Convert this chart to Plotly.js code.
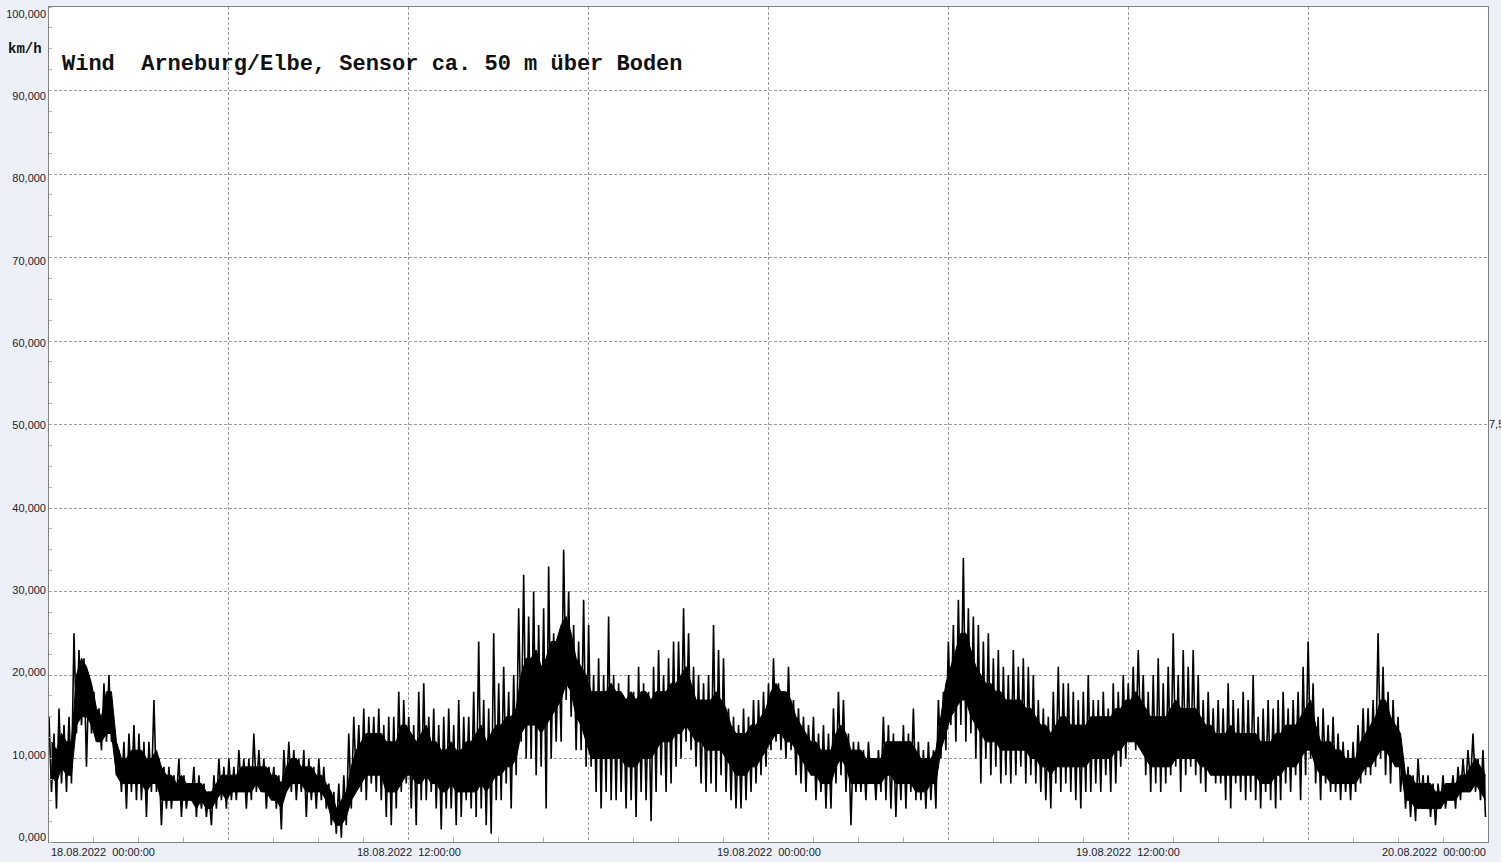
<!DOCTYPE html>
<html>
<head>
<meta charset="utf-8">
<script src="https://cdn.plot.ly/plotly-3.0.1.min.js"></script>
<style>
html,body{margin:0;padding:0;background:#edf0f9;}
#chart{width:1501px;height:862px;}
</style>
</head>
<body>
<div id="chart"></div>
<script>
// 10-minute bins starting 18.08.2022 00:00 — peaks and dips of the wind speed (km/h)
const windHigh = [
  15,13,16,14,15,25, 23,22,20,18,16,19, 20,14,11,12,13,14, 13,12,12,17,10,9,
  9,8,10,8,7,9, 8,7,6,8,10,9, 10,9,11,10,10,13, 11,10,9,9,8,11,
  12,11,10,11,10,9, 10,9,7,6,7,8, 13,15,14,16,15,15, 16,14,15,15,18,17,
  15,14,18,19,15,16, 14,15,16,14,17,15, 15,18,24,17,16,25, 19,21,18,20,28,32,
  27,30,26,28,33,25, 24,35,30,26,24,29, 26,20,22,20,27,20, 19,17,20,18,21,19,
  18,21,23,20,22,24, 24,28,25,21,20,19, 20,26,23,22,16,15, 14,16,15,17,17,18,
  19,22,19,18,21,17, 16,15,14,15,13,14, 13,16,18,17,13,12, 12,11,12,10,11,15,
  14,13,12,14,13,16, 12,11,12,11,17,18, 24,26,29,34,28,27, 26,24,25,22,23,21,
  20,23,21,22,21,20, 17,16,15,18,21,19, 19,18,17,18,20,17, 17,18,16,19,18,20,
  19,21,23,20,18,20, 22,19,21,25,20,23, 21,23,20,17,18,16, 17,16,19,17,16,18,
  17,20,15,16,17,16, 17,18,16,17,18,21, 24,19,15,16,14,15, 13,12,11,12,14,16,
  16,17,25,21,18,17, 15,10,9,8,10,8, 8,7,7,8,7,8, 9,10,11,13,10,11
];
const windLow = [
  6,4,7,6,7,13, 14,9,13,12,11,12, 12,8,6,4,6,5, 5,3,6,6,2,4,
  4,5,3,4,5,3, 4,3,2,4,5,4, 5,5,6,4,5,6, 6,4,6,4,1.5,6,
  6,5,6,3,5,4, 5,4,2,1,0.5,2, 4,7,6,5,7,6, 5,3,2,4,6,7,
  4,2,5,5,6,4, 1.5,4,4,2,3,5, 4,3,4,2,1,5, 5,7,4,8,12,10,
  10,8,9,4,10,12, 12,17,15,11,11,9, 9,6,4,6,5,5, 6,4,5,3,6,5,
  2.5,6,8,6,7,9, 10,12,11,9,7,6, 7,6,8,6,5,4, 4,5,6,7,8,9,
  11,12,11,10,11,8, 7,6,8,5,6,4, 4,7,8,6,2,6, 6,5,7,5,6,5,
  4,3,5,4,6,5, 5,4,5,4,10,11, 14,12,14,12,13,10, 7,10,8,9,7,8,
  7,8,9,7,8,7, 6,5,4,7,6,7, 6,5,4,6,6,7, 6,8,6,7,9,10,
  12,11,12,8,6,7, 6,7,8,9,6,8, 9,8,7,6,8,7, 7,5,4,7,6,5,
  6,5,4,6,5,4, 5,7,6,8,5,8, 10,7,5,7,6,6, 5,6,5,6,7,8,
  8,9,10,8,7,9, 6,4,3,2.5,5,4, 3,2,4,4,5,4, 5,6,7,6,5,3
];
// dense core of the trace, same 10-minute bins
const coreHigh = [
  12,11,13,12,12,20, 22,21,19,16,15,18, 18,12,10,10,11,11, 11,10,10,11,9,8,
  8,7,8,7,7,7, 7,6,6,7,8,8, 8,8,9,9,9,9, 9,9,8,8,7,9,
  10,10,9,9,9,8, 8,7,6,4,5,6, 9,11,12,13,13,13, 13,12,12,12,14,14,
  13,12,13,14,12,12, 11,11,12,11,11,12, 12,13,14,12,13,14, 14,15,15,16,20,22,
  22,23,21,22,24,24, 26,27,25,22,21,20, 18,18,18,18,19,18, 18,17,18,17,18,18,
  17,18,18,18,19,19, 20,21,19,17,17,17, 17,18,17,16,14,13, 13,13,14,14,15,16,
  18,19,18,18,17,15, 14,13,12,12,11,11, 11,13,14,13,11,11, 11,10,10,10,10,12,
  12,12,12,12,12,11, 10,10,10,11,15,19, 21,23,25,25,23,21, 20,19,19,18,18,17,
  17,17,17,16,16,15, 14,14,13,14,15,15, 14,14,14,14,15,15, 15,15,15,16,16,17,
  17,18,17,16,15,15, 15,15,16,17,16,16, 16,16,15,14,14,13, 13,13,14,13,13,13,
  13,13,12,12,12,13, 13,14,14,14,15,16, 17,14,12,12,12,11, 11,10,10,10,12,13,
  14,15,17,17,15,14, 13,8,8,7,7,7, 7,6,6,7,7,7, 8,8,9,10,9,8
];
const coreLow = [
  8,7,9,8,8,14, 15,15,14,12,12,13, 13,8,7,7,7,7, 7,6,7,7,5,5,
  5,5,5,5,5,4, 5,4,4,5,6,5, 6,6,6,6,6,7, 6,6,5,5,4,6,
  7,7,7,6,6,6, 6,5,3,2,2,3, 5,6,7,8,8,8, 8,6,6,6,7,8,
  8,7,7,8,7,7, 6,6,7,6,6,6, 6,6,7,6,7,8, 8,9,9,10,13,14,
  14,14,13,14,15,16, 17,19,18,15,14,12, 10,10,10,10,10,10, 10,9,9,9,10,10,
  10,11,12,12,12,13, 13,14,13,12,12,11, 11,11,11,10,9,8, 8,8,9,9,10,11,
  12,13,13,12,12,11, 10,9,8,8,7,7, 7,9,10,9,7,7, 7,7,7,7,7,8,
  8,7,7,7,7,6, 6,6,7,7,11,13, 15,16,17,17,15,14, 13,12,12,12,11,11,
  11,11,11,11,10,10, 9,9,8,9,9,9, 9,9,9,9,10,10, 10,10,10,11,11,12,
  12,12,11,10,9,9, 9,9,9,10,10,10, 10,10,9,9,8,8, 8,8,8,8,8,8,
  8,8,7,7,7,8, 8,9,9,9,10,11, 11,9,8,8,7,7, 7,7,7,7,8,9,
  9,10,11,11,10,9, 9,5,5,4,4,4, 4,4,4,5,5,5, 6,6,6,7,6,5
];
const yTickVals = [0,10,20,30,40,50,60,70,80,90,100];
const yTickText = ["0,000","10,000","20,000","30,000","40,000","50,000","60,000","70,000","80,000","90,000","100,000"];
const xLabelDates = ["2022-08-18 00:00:00","2022-08-18 12:00:00","2022-08-19 00:00:00","2022-08-19 12:00:00","2022-08-20 00:00:00"];
const xLabelText = ["18.08.2022  00:00:00","18.08.2022  12:00:00","19.08.2022  00:00:00","19.08.2022  12:00:00","20.08.2022  00:00:00"];
const titleText = "Wind\u00a0\u00a0Arneburg/Elbe, Sensor ca. 50 m über Boden";
const unitText = "km/h";
const rightText = "7,5";

const t0 = Date.UTC(2022,7,18,0,0,0);
const tEnd = Date.UTC(2022,7,20,0,0,0);
const binMs = 600000;

const xs = [], ys = [];
for (let i = 0; i < windHigh.length; i++) {
  xs.push(t0 + i*binMs); ys.push(windHigh[i]);
  xs.push(t0 + i*binMs + binMs/2); ys.push(windLow[i]);
}
const cx = coreHigh.map((_, i) => t0 + i*binMs + binMs/2);

function toMs(s){ const p = s.split(/[- :]/).map(Number); return Date.UTC(p[0],p[1]-1,p[2],p[3],p[4],p[5]); }

const annotations = [];
xLabelDates.forEach((d,i) => {
  const frac = (toMs(d)-t0)/(tEnd-t0);
  annotations.push({
    xref:'paper', yref:'paper', x: frac, y: 0, yshift: -10,
    xanchor: i===0 ? 'left' : (i===xLabelDates.length-1 ? 'right' : 'center'),
    yanchor:'middle', showarrow:false, text: xLabelText[i].replace(/ /g,'\u00a0'),
    font:{family:'Liberation Sans, Arial, sans-serif', size:11, color:'#222'}
  });
});
annotations.push({xref:'paper', yref:'paper', x:(60-49)/1439, y:(842-64)/835, xanchor:'left', yanchor:'middle',
  showarrow:false, text: titleText, font:{family:'Liberation Mono, Courier New, monospace', size:22, color:'#111', weight:'bold'}});
annotations.push({xref:'paper', yref:'paper', x:(25-49)/1439, y:(842-49)/835, xanchor:'center', yanchor:'middle',
  showarrow:false, text: unitText, font:{family:'Liberation Mono, Courier New, monospace', size:14, color:'#111', weight:'bold'}});
annotations.push({xref:'paper', yref:'paper', x:(1490-49)/1439, y:(842-424)/835, xanchor:'left', yanchor:'middle', xshift:-3,
  showarrow:false, text: rightText, font:{family:'Liberation Sans, Arial, sans-serif', size:11, color:'#222'}});

const coreLowTrace = {
  type:'scatter', mode:'lines', x: cx, y: coreLow,
  line:{color:'#000', width:1}, hoverinfo:'skip'
};
const coreHighTrace = {
  type:'scatter', mode:'lines', x: cx, y: coreHigh, fill:'tonexty', fillcolor:'#000',
  line:{color:'#000', width:1}, hoverinfo:'skip'
};
const spikeTrace = {
  type:'scatter', mode:'lines', x: xs, y: ys,
  line:{color:'#000', width:1.6}, hoverinfo:'skip'
};
const labelAxisTrace = { type:'scatter', mode:'lines', x: [], y: [], yaxis:'y2', hoverinfo:'skip' };

const layout = {
  width:1501, height:862,
  margin:{l:49, r:13, t:7, b:20, pad:0},
  paper_bgcolor:'#edf0f9', plot_bgcolor:'#ffffff',
  showlegend:false,
  xaxis:{
    type:'date', range:[t0, tEnd], showticklabels:false,
    tick0:t0, dtick:21600000, ticks:'', showgrid:true, gridcolor:'#9a9a9a', griddash:'3px,2px', gridwidth:1,
    showline:true, mirror:true, linecolor:'#808080', linewidth:1, zeroline:false,
    minor:{dtick:5400000, tick0:t0, ticks:'inside', ticklen:5, tickcolor:'#b0b0b0', showgrid:false}
  },
  yaxis:{
    range:[0,100], tickvals:yTickVals, showticklabels:false, ticks:'',
    showgrid:true, gridcolor:'#9a9a9a', griddash:'3px,2px', gridwidth:1,
    showline:true, mirror:true, linecolor:'#808080', linewidth:1, zeroline:false,
    minor:{dtick:2.5, ticks:'inside', ticklen:3, tickcolor:'#b0b0b0', showgrid:false}
  },
  yaxis2:{
    overlaying:'y', side:'left', range:[-0.61,100.85], tickvals:yTickVals, ticktext:yTickText,
    ticks:'', showgrid:false, showline:false, zeroline:false,
    tickfont:{family:'Liberation Sans, Arial, sans-serif', size:11, color:'#222'},
    ticklabelstandoff:2
  },
  annotations: annotations
};

Plotly.newPlot('chart', [coreLowTrace, coreHighTrace, spikeTrace, labelAxisTrace], layout, {staticPlot:true, displayModeBar:false});
</script>
</body>
</html>
